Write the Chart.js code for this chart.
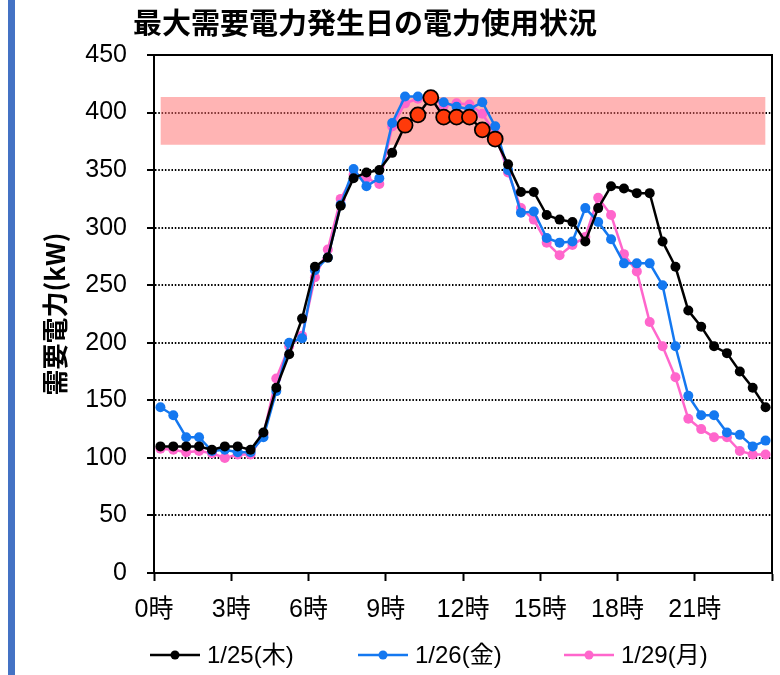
<!DOCTYPE html>
<html>
<head>
<meta charset="utf-8">
<script src="https://cdn.jsdelivr.net/npm/chart.js@4/dist/chart.umd.min.js"></script>
<style>
  html, body { margin: 0; padding: 0; background: #fff; }
  #wrap { width: 780px; height: 675px; position: relative; }
</style>
</head>
<body>
<div id="wrap"><canvas id="c" width="780" height="675"></canvas></div>
<script>
// ---- chart text ----
const chartTitle = '最大需要電力発生日の電力使用状況';
const yAxisTitle = '需要電力(kW)';
const seriesLabels = ['1/25(木)', '1/26(金)', '1/29(月)'];
const hourTicks = [0, 3, 6, 9, 12, 15, 18, 21, 24];

// ---- half-hourly demand (kW), 48 slots from 0:00 ----
const demand0125 = [110,110,110,110,107,110,110,107,122,161,190,221,266,274,319,343,348,350,365,389,398,413,396,396,396,385,377,355,331,331,311,307,305,288,317,336,334,330,330,288,266,228,214,197,191,175,161,144];
const demand0126 = [144,137,118,118,106,107,105,105,118,158,200,204,263,274,320,351,336,343,391,414,414,413,409,405,403,409,388,350,313,314,291,287,288,317,305,290,269,269,269,250,197,154,137,137,122,120,110,115];
const demand0129 = [108,107,105,106,104,100,103,103,120,169,197,206,257,281,325,346,343,338,388,408,412,413,406,408,407,399,382,348,317,307,287,276,285,292,326,311,277,262,218,197,170,134,125,118,118,106,103,103];

// ---- highlighted demand range (kW) ----
const bandLow = 372;
const bandHigh = 413.6;

const FONT = "'Liberation Sans', 'Noto Sans CJK JP', sans-serif";
const CJK_BOLD = "'Noto Sans CJK JP', 'Liberation Sans', sans-serif";

// each value sits in the middle of its 30-minute slot
const slotHour = i => i * 0.5 + 0.25;
const toPoints = arr => arr.map((v, i) => ({ x: slotHour(i), y: v }));
const firstSlot = slotHour(0);
const lastSlot = slotHour(demand0125.length - 1);

const colors = ['#000000', '#1478F0', '#FF66CC'];
const peakFill = '#FF3A0A';

const frame = {
  id: 'frame',
  beforeDraw(chart) {
    const ctx = chart.ctx;
    ctx.save();
    ctx.fillStyle = '#fff';
    ctx.fillRect(0, 0, chart.width, chart.height);
    ctx.fillStyle = '#4472C4';
    ctx.fillRect(8, 0, 7, chart.height);
    ctx.restore();
  },
  afterDatasetsDraw(chart) {
    const { ctx, chartArea: a } = chart;
    ctx.save();
    ctx.strokeStyle = '#000';
    ctx.lineWidth = 2;
    ctx.beginPath();
    ctx.moveTo(a.left, a.top);
    ctx.lineTo(a.right, a.top);
    ctx.lineTo(a.right, a.bottom);
    ctx.stroke();
    ctx.restore();
  },
  afterDraw(chart) {
    const ctx = chart.ctx;
    ctx.save();
    // title
    ctx.fillStyle = '#000';
    ctx.font = 'bold 29px ' + CJK_BOLD;
    ctx.textAlign = 'center';
    ctx.textBaseline = 'middle';
    ctx.fillText(chartTitle, 365, 23);
    // legend
    const lx = [150, 358, 564];
    const ly = 655;
    ctx.font = '24px ' + FONT;
    ctx.textAlign = 'left';
    for (let i = 0; i < 3; i++) {
      const ds = chart.data.datasets[i];
      ctx.strokeStyle = ds.borderColor;
      ctx.lineWidth = 2.5;
      ctx.beginPath();
      ctx.moveTo(lx[i], ly);
      ctx.lineTo(lx[i] + 50, ly);
      ctx.stroke();
      ctx.fillStyle = ds.borderColor;
      ctx.beginPath();
      ctx.arc(lx[i] + 25, ly, 4.5, 0, Math.PI * 2);
      ctx.fill();
      ctx.fillStyle = '#000';
      ctx.fillText(ds.label, lx[i] + 57, ly + 1);
    }
    ctx.restore();
  }
};

const isPeak = ctx => demand0125[ctx.dataIndex] >= bandLow;

new Chart(document.getElementById('c'), {
  type: 'line',
  data: {
    datasets: [
      {
        label: seriesLabels[0],
        data: toPoints(demand0125),
        borderColor: colors[0],
        backgroundColor: colors[0],
        borderWidth: 2.5,
        pointRadius: ctx => isPeak(ctx) ? 7.5 : 5,
        pointBackgroundColor: ctx => isPeak(ctx) ? peakFill : colors[0],
        pointBorderColor: '#000',
        pointBorderWidth: ctx => isPeak(ctx) ? 1.8 : 0,
        tension: 0
      },
      {
        label: seriesLabels[1],
        data: toPoints(demand0126),
        borderColor: colors[1],
        backgroundColor: colors[1],
        borderWidth: 2.5,
        pointRadius: 5,
        pointBorderWidth: 0,
        tension: 0
      },
      {
        label: seriesLabels[2],
        data: toPoints(demand0129),
        borderColor: colors[2],
        backgroundColor: colors[2],
        borderWidth: 2.5,
        pointRadius: 5,
        pointBorderWidth: 0,
        tension: 0
      },
      {
        label: 'band-high',
        data: [{ x: firstSlot, y: bandHigh }, { x: lastSlot, y: bandHigh }],
        borderWidth: 0,
        borderColor: 'rgba(0,0,0,0)',
        pointRadius: 0,
        fill: '+1',
        backgroundColor: 'rgba(255,105,105,0.5)'
      },
      {
        label: 'band-low',
        data: [{ x: firstSlot, y: bandLow }, { x: lastSlot, y: bandLow }],
        borderWidth: 0,
        borderColor: 'rgba(0,0,0,0)',
        pointRadius: 0,
        fill: false
      }
    ]
  },
  options: {
    responsive: false,
    animation: false,
    devicePixelRatio: 1,
    layout: { padding: { left: 0, top: 55, right: 8, bottom: 42 } },
    plugins: {
      legend: { display: false },
      title: { display: false },
      tooltip: { enabled: false }
    },
    scales: {
      x: {
        type: 'linear',
        min: 0,
        max: 24,
        afterBuildTicks: s => { s.ticks = hourTicks.map(v => ({ value: v })); },
        afterFit: s => { s.height = 60; s.paddingLeft = 0; s.paddingRight = 0; },
        grid: { drawOnChartArea: false, drawTicks: true, tickLength: 8, tickColor: '#000', tickWidth: 2 },
        border: { color: '#000', width: 2 },
        ticks: {
          autoSkip: false,
          maxRotation: 0,
          padding: 14,
          color: '#000',
          font: { size: 25, family: FONT },
          callback: v => (v < 24 ? v + '時' : '')
        }
      },
      y: {
        min: 0,
        max: 450,
        afterFit: s => { s.width = 154; },
        ticks: { stepSize: 50, padding: 20, color: '#000', font: { size: 25, family: FONT } },
        grid: {
          color: ctx => (ctx.tick && (ctx.tick.value === 0 || ctx.tick.value === 450)) ? 'rgba(0,0,0,0)' : '#000',
          lineWidth: 2,
          tickLength: 7,
          tickColor: '#000',
          tickWidth: 2,
          tickBorderDash: []
        },
        border: { color: '#000', width: 2, dash: [1.5, 1.8] },
        title: {
          display: true,
          text: yAxisTitle,
          color: '#000',
          font: { size: 26, weight: 'bold', family: CJK_BOLD },
          padding: { top: 40, bottom: 0 }
        }
      }
    }
  },
  plugins: [frame]
});
</script>
</body>
</html>
